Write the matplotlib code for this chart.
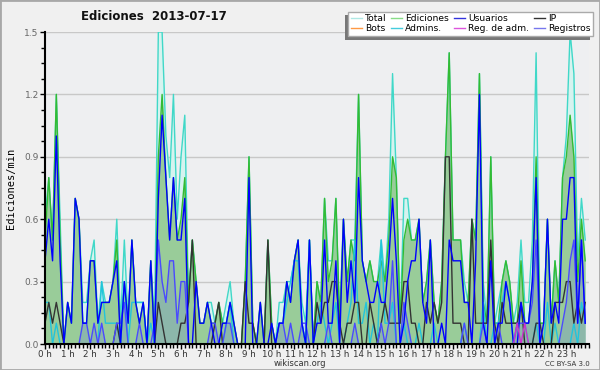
import numpy as np
import matplotlib
matplotlib.use("Agg")
import matplotlib.pyplot as plt
from matplotlib.lines import Line2D
from matplotlib.patches import Rectangle
from matplotlib.ticker import MultipleLocator, FixedLocator, FixedFormatter

# edits per minute, one value every 10 minutes (6 values per hour)
total = [
    0.6, 0.8, 0.5, 1.2, 0.6, 0.0,   0.2, 0.1, 0.7, 0.6, 0.2, 0.2,
    0.4, 0.5, 0.1, 0.3, 0.2, 0.2,   0.3, 0.6, 0.1, 0.5, 0.1, 0.5,
    0.2, 0.2, 0.2, 0.0, 0.4, 0.1,   1.5, 1.5, 1.0, 0.8, 1.2, 0.6,
    0.9, 1.1, 0.2, 0.5, 0.3, 0.1,   0.1, 0.2, 0.2, 0.1, 0.2, 0.1,
    0.2, 0.3, 0.1, 0.0, 0.0, 0.3,   0.9, 0.1, 0.0, 0.2, 0.0, 0.5,
    0.1, 0.0, 0.2, 0.2, 0.3, 0.3,   0.4, 0.5, 0.2, 0.1, 0.5, 0.0,
    0.3, 0.2, 0.7, 0.4, 0.4, 0.7,   0.1, 0.6, 0.3, 0.5, 0.5, 1.2,
    0.4, 0.3, 0.4, 0.3, 0.3, 0.5,   0.3, 0.6, 1.3, 0.8, 0.1, 0.7,
    0.7, 0.5, 0.5, 0.6, 0.2, 0.3,   0.5, 0.2, 0.1, 0.3, 0.9, 1.4,
    0.5, 0.5, 0.5, 0.3, 0.2, 0.6,   0.5, 1.3, 0.3, 0.1, 0.9, 0.1,
    0.2, 0.3, 0.4, 0.3, 0.1, 0.2,   0.5, 0.2, 0.2, 0.5, 1.4, 0.1,
    0.1, 0.6, 0.1, 0.4, 0.2, 0.8,   1.0, 1.5, 1.3, 0.4, 0.7, 0.5,
]
ediciones = [
    0.5, 0.8, 0.5, 1.2, 0.5, 0.0,   0.2, 0.1, 0.7, 0.6, 0.1, 0.1,
    0.4, 0.4, 0.1, 0.2, 0.2, 0.2,   0.3, 0.5, 0.0, 0.3, 0.1, 0.5,
    0.2, 0.1, 0.2, 0.0, 0.4, 0.0,   0.9, 1.2, 0.8, 0.5, 0.8, 0.5,
    0.6, 0.8, 0.2, 0.5, 0.3, 0.1,   0.1, 0.2, 0.1, 0.1, 0.2, 0.1,
    0.1, 0.2, 0.1, 0.0, 0.0, 0.3,   0.9, 0.1, 0.0, 0.2, 0.0, 0.5,
    0.1, 0.0, 0.1, 0.1, 0.3, 0.2,   0.4, 0.5, 0.1, 0.0, 0.5, 0.0,
    0.3, 0.2, 0.7, 0.3, 0.4, 0.7,   0.1, 0.6, 0.3, 0.5, 0.4, 1.2,
    0.4, 0.3, 0.4, 0.3, 0.3, 0.4,   0.3, 0.5, 0.9, 0.8, 0.1, 0.5,
    0.6, 0.5, 0.5, 0.6, 0.2, 0.3,   0.5, 0.2, 0.1, 0.3, 0.9, 1.4,
    0.5, 0.5, 0.5, 0.2, 0.2, 0.6,   0.5, 1.3, 0.2, 0.1, 0.9, 0.1,
    0.1, 0.3, 0.4, 0.3, 0.1, 0.1,   0.4, 0.1, 0.1, 0.3, 0.9, 0.1,
    0.1, 0.6, 0.1, 0.4, 0.2, 0.8,   0.9, 1.1, 0.9, 0.3, 0.6, 0.4,
]
usuarios = [
    0.4, 0.6, 0.4, 1.0, 0.4, 0.0,   0.2, 0.1, 0.7, 0.6, 0.1, 0.1,
    0.4, 0.4, 0.1, 0.2, 0.2, 0.2,   0.3, 0.4, 0.0, 0.3, 0.1, 0.5,
    0.2, 0.1, 0.2, 0.0, 0.4, 0.0,   0.7, 1.1, 0.8, 0.5, 0.8, 0.5,
    0.5, 0.7, 0.0, 0.0, 0.3, 0.1,   0.1, 0.2, 0.1, 0.0, 0.0, 0.1,
    0.1, 0.2, 0.1, 0.0, 0.0, 0.0,   0.8, 0.0, 0.0, 0.2, 0.0, 0.0,
    0.1, 0.0, 0.1, 0.1, 0.3, 0.2,   0.4, 0.5, 0.1, 0.0, 0.5, 0.0,
    0.1, 0.1, 0.5, 0.1, 0.1, 0.4,   0.0, 0.6, 0.2, 0.4, 0.2, 0.8,
    0.4, 0.3, 0.2, 0.2, 0.3, 0.2,   0.2, 0.4, 0.7, 0.4, 0.0, 0.1,
    0.3, 0.4, 0.4, 0.6, 0.2, 0.1,   0.5, 0.0, 0.0, 0.1, 0.0, 0.5,
    0.4, 0.4, 0.4, 0.2, 0.2, 0.0,   0.4, 1.2, 0.1, 0.0, 0.4, 0.0,
    0.1, 0.1, 0.3, 0.2, 0.0, 0.0,   0.2, 0.1, 0.1, 0.3, 0.8, 0.0,
    0.1, 0.6, 0.1, 0.2, 0.1, 0.6,   0.6, 0.8, 0.8, 0.1, 0.5, 0.1,
]
ip = [
    0.1, 0.2, 0.1, 0.2, 0.1, 0.0,   0.0, 0.0, 0.0, 0.0, 0.0, 0.0,
    0.0, 0.0, 0.0, 0.0, 0.0, 0.0,   0.0, 0.1, 0.0, 0.0, 0.0, 0.0,
    0.0, 0.0, 0.0, 0.0, 0.0, 0.0,   0.2, 0.1, 0.0, 0.0, 0.0, 0.0,
    0.1, 0.1, 0.2, 0.5, 0.0, 0.0,   0.0, 0.0, 0.0, 0.1, 0.2, 0.0,
    0.0, 0.0, 0.0, 0.0, 0.0, 0.3,   0.1, 0.1, 0.0, 0.0, 0.0, 0.5,
    0.0, 0.0, 0.0, 0.0, 0.0, 0.0,   0.0, 0.0, 0.0, 0.0, 0.0, 0.0,
    0.2, 0.1, 0.2, 0.2, 0.3, 0.3,   0.1, 0.0, 0.1, 0.1, 0.2, 0.2,
    0.0, 0.0, 0.2, 0.1, 0.0, 0.1,   0.2, 0.1, 0.1, 0.1, 0.1, 0.3,
    0.3, 0.1, 0.1, 0.0, 0.0, 0.2,   0.1, 0.2, 0.1, 0.2, 0.9, 0.9,
    0.1, 0.1, 0.1, 0.0, 0.0, 0.6,   0.1, 0.1, 0.1, 0.1, 0.5, 0.1,
    0.0, 0.2, 0.1, 0.1, 0.1, 0.1,   0.2, 0.0, 0.0, 0.0, 0.1, 0.1,
    0.0, 0.0, 0.0, 0.2, 0.2, 0.2,   0.3, 0.3, 0.1, 0.2, 0.1, 0.2,
]
bots = [0.0] * 144
admins = [
    0.2, 0.2, 0.0, 0.1, 0.0, 0.0,   0.0, 0.0, 0.0, 0.0, 0.0, 0.0,
    0.0, 0.0, 0.0, 0.3, 0.1, 0.1,   0.1, 0.1, 0.0, 0.3, 0.0, 0.2,
    0.2, 0.2, 0.2, 0.0, 0.1, 0.0,   0.0, 0.0, 0.0, 0.0, 0.0, 0.0,
    0.0, 0.0, 0.0, 0.0, 0.0, 0.0,   0.0, 0.0, 0.0, 0.0, 0.0, 0.0,
    0.1, 0.2, 0.0, 0.0, 0.0, 0.0,   0.0, 0.0, 0.0, 0.0, 0.0, 0.0,
    0.0, 0.0, 0.1, 0.1, 0.2, 0.3,   0.4, 0.4, 0.1, 0.0, 0.5, 0.0,
    0.1, 0.2, 0.1, 0.0, 0.1, 0.2,   0.0, 0.0, 0.1, 0.2, 0.5, 0.1,
    0.1, 0.2, 0.0, 0.1, 0.0, 0.5,   0.1, 0.1, 0.2, 0.0, 0.0, 0.1,
    0.0, 0.0, 0.0, 0.1, 0.0, 0.0,   0.0, 0.1, 0.0, 0.0, 0.0, 0.0,
    0.0, 0.0, 0.0, 0.1, 0.0, 0.0,   0.0, 0.0, 0.2, 0.0, 0.0, 0.1,
    0.1, 0.2, 0.3, 0.2, 0.0, 0.1,   0.2, 0.1, 0.0, 0.0, 0.1, 0.0,
    0.0, 0.2, 0.0, 0.1, 0.0, 0.0,   0.0, 0.0, 0.1, 0.0, 0.2, 0.1,
]
reg_adm = [0.0] * 125 + [0.1, 0.0, 0.1] + [0.0] * 16
registros = [
    0.0, 0.0, 0.0, 0.0, 0.0, 0.0,   0.0, 0.0, 0.0, 0.0, 0.1, 0.1,
    0.0, 0.1, 0.0, 0.1, 0.0, 0.0,   0.0, 0.1, 0.1, 0.2, 0.0, 0.0,
    0.0, 0.1, 0.0, 0.0, 0.0, 0.1,   0.5, 0.3, 0.2, 0.4, 0.4, 0.1,
    0.3, 0.3, 0.0, 0.0, 0.0, 0.0,   0.0, 0.0, 0.1, 0.1, 0.0, 0.0,
    0.1, 0.1, 0.0, 0.0, 0.0, 0.0,   0.0, 0.0, 0.0, 0.0, 0.0, 0.0,
    0.0, 0.0, 0.1, 0.1, 0.0, 0.1,   0.0, 0.0, 0.1, 0.1, 0.0, 0.0,
    0.0, 0.0, 0.0, 0.1, 0.0, 0.0,   0.0, 0.0, 0.0, 0.0, 0.1, 0.0,
    0.0, 0.0, 0.0, 0.0, 0.0, 0.1,   0.0, 0.1, 0.4, 0.0, 0.0, 0.2,
    0.1, 0.0, 0.0, 0.0, 0.0, 0.0,   0.0, 0.0, 0.0, 0.0, 0.0, 0.0,
    0.0, 0.0, 0.0, 0.1, 0.0, 0.0,   0.0, 0.0, 0.1, 0.0, 0.0, 0.0,
    0.1, 0.0, 0.0, 0.0, 0.0, 0.1,   0.1, 0.1, 0.1, 0.2, 0.5, 0.0,
    0.0, 0.0, 0.0, 0.0, 0.0, 0.1,   0.2, 0.4, 0.5, 0.1, 0.5, 0.1,
]
hour_labels = ["%d h" % h for h in range(24)]
legend_labels = ["Total", "Ediciones", "Usuarios", "IP",
                 "Bots", "Admins.", "Reg. de adm.", "Registros"]

x = np.arange(len(total)) / 6.0

fig = plt.figure(figsize=(6, 3.7), dpi=100, facecolor="#f0f0f0")
ax = fig.add_axes([45 / 600, 26 / 370, 544 / 600, 312 / 370])
ax.set_facecolor("#eeeff1")

# filled areas
ax.fill_between(x, total, color="#d6f3ef", lw=0, zorder=1)
ax.fill_between(x, ediciones, color="#99cc99", lw=0, zorder=1.1)
ax.fill_between(x, registros, color="#5050ff", alpha=0.17, lw=0, zorder=1.2)

# lines
ax.plot(x, total, color="#40d8c8", lw=1, zorder=2)
ax.plot(x, ediciones, color="#33bb33", lw=1, zorder=2.05)
ax.plot(x, bots, color="#ff9933", lw=1, zorder=2.06)
ax.plot(x, admins, color="#22c4dc", lw=1, zorder=2.1)
ax.plot(x, ip, color="#333333", lw=1, zorder=2.15)
ax.plot(x, registros, color="#4a4aff", lw=1, zorder=2.2)
ax.plot(x, usuarios, color="#0000ff", lw=1, zorder=2.25)
ax.plot(x, reg_adm, color="#cc33cc", lw=1, zorder=2.3)

ax.set_xlim(0, 24)
ax.set_ylim(0, 1.5)
ax.yaxis.set_major_locator(MultipleLocator(0.3))
ax.yaxis.set_minor_locator(MultipleLocator(0.075))
ax.yaxis.set_major_formatter(plt.FormatStrFormatter("%.1f"))
ax.xaxis.set_major_locator(FixedLocator(range(24)))
ax.xaxis.set_major_formatter(FixedFormatter(hour_labels))
ax.xaxis.set_minor_locator(MultipleLocator(1 / 6))
ax.grid(axis="y", color="#c8c8c8", lw=1)
ax.set_axisbelow(True)

for s in ["top", "right"]:
    ax.spines[s].set_visible(False)
for s in ["left", "bottom"]:
    ax.spines[s].set_linewidth(1.5)
    ax.spines[s].set_zorder(5)

ax.tick_params(axis="both", which="both", direction="out", color="black",
               labelsize=6.3, labelcolor="#333333", pad=0.5)
ax.tick_params(axis="both", which="major", length=3.5, width=1)
ax.tick_params(axis="both", which="minor", length=3, width=1)
ax.tick_params(axis="y", labelcolor="#666666", labelsize=6.5, pad=1)

ax.set_ylabel("Ediciones/min", family="DejaVu Sans Mono", fontsize=7.5, labelpad=6)

fig.text(154 / 600, 1 - 17 / 370, "Ediciones  2013-07-17", ha="center", va="center",
         fontsize=8.5, fontweight="bold", color="#111111")
fig.text(300 / 600, 1 - 364 / 370, "wikiscan.org", ha="center", va="center",
         fontsize=6, color="#333333")
fig.text(590 / 600, 1 - 364 / 370, "CC BY-SA 3.0", ha="right", va="center",
         fontsize=5, color="#333333")

# legend (row-wise order like the original)
handle_colors = ["#aee8e4", "#88dd88", "#3333dd", "#333333",
                 "#ff9944", "#44ccdd", "#dd55dd", "#7777ee"]
handles = [Line2D([], [], color=c, lw=1) for c in handle_colors]
order = [0, 4, 1, 5, 2, 6, 3, 7]
leg = fig.legend([handles[i] for i in order], [legend_labels[i] for i in order],
                 ncol=4, loc="upper right", bbox_to_anchor=(593 / 600, 1 - 11.5 / 370),
                 fontsize=6.6, frameon=True, fancybox=False, edgecolor="#aaaaaa",
                 facecolor="white", framealpha=1, handlelength=1.2, handletextpad=0.35,
                 columnspacing=0.5, borderpad=0.3, labelspacing=0.1, borderaxespad=0)
leg.get_frame().set_linewidth(1)

fig.canvas.draw()
bb = leg.get_window_extent()
inv = fig.transFigure.inverted()
(x0, y0) = inv.transform((bb.x0 - 3, bb.y0 - 4))
(x1, y1) = inv.transform((bb.x1 - 3, bb.y1 - 4))
fig.patches.append(Rectangle((x0, y0), x1 - x0, y1 - y0, transform=fig.transFigure,
                             facecolor="#777777", edgecolor="none", zorder=4))

# outer border
fig.patches.append(Rectangle((0, 0), 1, 1, transform=fig.transFigure, fill=False,
                             edgecolor="#a8a8a8", lw=2, zorder=10))

fig.savefig("out.png", dpi=100, facecolor=fig.get_facecolor())
